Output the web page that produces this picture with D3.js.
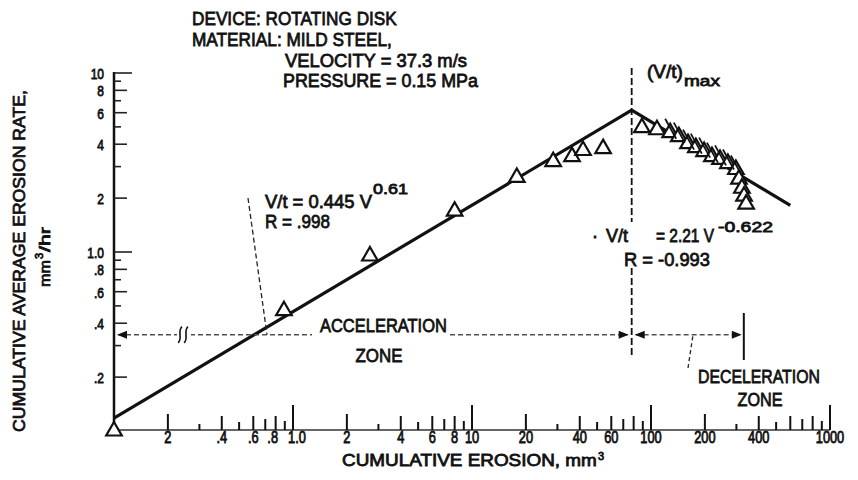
<!DOCTYPE html>
<html><head><meta charset="utf-8">
<script src="https://cdn.jsdelivr.net/npm/d3@7"></script>
<style>
body{margin:0;background:#fff}
svg{display:block;background:#fff}
text{font-family:"Liberation Sans",Arial,sans-serif;fill:#111;stroke:#111;stroke-width:0.8px}
</style></head><body>
<svg id="chart" width="858" height="480"></svg>
<script>
// ---- data ----
const accelErosion = [0.1, 0.89, 2.69, 8.0, 17.8, 28.4, 36.2, 41.7, 54];
const accelRate    = [0.1, 0.47, 0.95, 1.69, 2.61, 3.2, 3.41, 3.69, 3.78];
const decelErosion = [89, 108, 128, 143, 161, 178, 198, 219, 243, 269, 298, 310, 322, 331, 340];
const decelRate    = [4.95, 4.82, 4.64, 4.41, 4.03, 3.83, 3.64, 3.41, 3.29, 3.12, 2.89, 2.55, 2.27, 2.05, 1.85];
const decelFlagged = [0, 0, 1, 1, 1, 1, 1, 1, 1, 1, 1, 0, 0, 0, 0];
const accelFitErosion = [0.1, 78];
const accelFitRate    = [0.118, 6.2];
const decelFitErosion = [78, 600];
const decelFitRate    = [6.2, 1.82];
const vtMaxErosion = 78;
const decelZoneEnd = 330;
const zoneArrowRate = 0.345;

const xTickLabelValues = [0.2, 0.4, 0.6, 0.8, 1, 2, 4, 6, 8, 10, 20, 40, 60, 100, 200, 400, 1000];
const xTickLabels = ["2", ".4", ".6", ".8", "1.0", "2", "4", "6", "8", "10", "20", "40", "60", "100", "200", "400", "1000"];
const yTickLabelValues = [0.2, 0.4, 0.6, 0.8, 1, 2, 4, 6, 8, 10];
const yTickLabels = [".2", ".4", ".6", ".8", "1.0", "2", "4", "6", "8", "10"];

// ---- drawing ----
const svg = d3.select("#chart");
const x = d3.scaleLog().domain([0.1, 1000]).range([114, 830]);
const y = d3.scaleLog().domain([0.1, 10]).range([431, 73]);

// text squeezed horizontally to a target width with a transform (keeps bbox honest)
function label(px, py, s, size, len, anchor, parent, rot) {
  const p = parent || svg;
  const t = p.append("text").attr("x", 0).attr("y", 0).attr("font-size", size)
    .attr("text-anchor", anchor || "start").text(s);
  let sx = 1;
  if (len) { const w = t.node().getComputedTextLength(); if (w > 0) sx = len / w; }
  t.attr("transform", `translate(${px},${py})${rot ? ` rotate(${rot})` : ""} scale(${sx},1)`);
  return t;
}

// minor/major ticks
const allTicks = [];
for (let d = 0.1; d < 1000; d *= 10) for (let m = 1; m <= 9; m++) {
  const v = +(d * m).toPrecision(3);
  if (v > 0.1) allTicks.push({v, m});
}
allTicks.push({v: 1000, m: 1});
const xLen = {1: 25, 2: 16, 3: 6, 4: 14, 5: 8, 6: 14, 7: 11, 8: 14, 9: 9};

// x axis line
svg.append("line").attr("x1", x(0.1)).attr("x2", x(1000)).attr("y1", 430).attr("y2", 430)
  .attr("stroke", "#333").attr("stroke-width", 1.6);
svg.selectAll(".xt").data(allTicks).enter().append("line")
  .attr("x1", d => x(d.v)).attr("x2", d => x(d.v))
  .attr("y1", 430).attr("y2", d => 430 - xLen[d.m])
  .attr("stroke", "#111").attr("stroke-width", 2);

// y axis line
svg.append("line").attr("x1", 114).attr("x2", 114).attr("y1", y(10) - 1).attr("y2", y(0.1))
  .attr("stroke", "#111").attr("stroke-width", 2.5);
const yTicks = allTicks.filter(d => d.v <= 10);
svg.selectAll(".yt").data(yTicks).enter().append("line")
  .attr("x1", 114).attr("x2", d => 114 + (d.m === 1 ? 18 : (d.m % 2 === 0 ? 13 : 7)))
  .attr("y1", d => y(d.v)).attr("y2", d => y(d.v))
  .attr("stroke", "#222").attr("stroke-width", 1.6);

// tick labels
const xLabelShift = {".8": -3, "1.0": 4};
xTickLabelValues.forEach((v, i) => {
  const s = xTickLabels[i];
  svg.append("text").attr("transform", `translate(${x(v) + (xLabelShift[s] || 0)},443) scale(0.8,1)`)
    .attr("font-size", 16).attr("text-anchor", "middle").text(s);
});
yTickLabelValues.forEach((v, i) => {
  svg.append("text").attr("transform", `translate(104,${y(v) + 6}) scale(0.8,1)`)
    .attr("font-size", 15).attr("text-anchor", "end").text(yTickLabels[i]);
});

// axis titles
label(342, 466, "CUMULATIVE EROSION, mm", 17, 255);
label(598, 460, "3", 11);
label(25, 261, "CUMULATIVE AVERAGE EROSION RATE,", 17, 342, "middle", svg, -90);
label(50, 287, "mm", 15, 27, "start", svg, -90);
label(43, 259, "3", 11, 0, "start", svg, -90);
label(50, 252, "/hr", 15, 25, "start", svg, -90);

// header
label(192, 25, "DEVICE: ROTATING DISK", 19, 205);
label(192, 46, "MATERIAL: MILD STEEL,", 19, 200);
label(285, 67, "VELOCITY = 37.3 m/s", 19, 182);
label(283, 87, "PRESSURE = 0.15 MPa", 19, 195);

// (V/t)max
label(647, 78, "(V/t)", 18, 36);
label(684, 86, "max", 15, 36);

// vertical dashed line at (V/t)max
const vx = x(vtMaxErosion);
[[68, 222], [268, 358]].forEach(s => svg.append("line").attr("x1", vx).attr("x2", vx)
  .attr("y1", s[0]).attr("y2", s[1]).attr("stroke", "#111").attr("stroke-width", 1.8)
  .attr("stroke-dasharray", "7,3"));

// fit lines
const line = d3.line().x(d => x(d[0])).y(d => y(d[1]));
svg.append("path").attr("d", line(accelFitErosion.map((v, i) => [v, accelFitRate[i]])))
  .attr("fill", "none").attr("stroke", "#111").attr("stroke-width", 3.2);
svg.append("path").attr("d", line(decelFitErosion.map((v, i) => [v, decelFitRate[i]])))
  .attr("fill", "none").attr("stroke", "#111").attr("stroke-width", 3.2);

// data triangles
const tri = d3.symbol().type(d3.symbolTriangle).size(105);
const pts = accelErosion.map((v, i) => ({v, r: accelRate[i], f: 0}))
  .concat(decelErosion.map((v, i) => ({v, r: decelRate[i], f: decelFlagged[i]})));
svg.selectAll(".pt").data(pts).enter().append("path")
  .attr("transform", d => `translate(${x(d.v)},${y(d.r)})`).attr("d", tri)
  .attr("fill", "#fff").attr("stroke", "#111").attr("stroke-width", 2.2);
svg.selectAll(".fl").data(pts.filter(d => d.f)).enter().append("line")
  .attr("x1", d => x(d.v) - 5).attr("y1", d => y(d.r) - 14)
  .attr("x2", d => x(d.v) + 6).attr("y2", d => y(d.r) + 6)
  .attr("stroke", "#111").attr("stroke-width", 1.8);

// equations
label(265, 208, "V/t = 0.445 V", 19, 107);
label(373, 194, "0.61", 15, 35);
label(265, 228, "R   =   .998", 19, 65);
svg.append("line").attr("x1", 248).attr("y1", 198).attr("x2", 267).attr("y2", y(zoneArrowRate))
  .attr("stroke", "#222").attr("stroke-width", 1.3).attr("stroke-dasharray", "5,3");

label(592, 242, "·", 18);
label(606, 242, "V/t", 19, 22);
label(656, 242, "= 2.21 V", 19, 58);
label(718, 232, "-0.622", 15, 55);
label(624, 266, "R = -0.993", 19, 86);

// zone arrows
const ay = y(zoneArrowRate);
function arrowHead(px, py, dir) {
  svg.append("path").attr("d", `M${px},${py} l${-dir * 10},-4 l0,8 z`).attr("fill", "#111");
}
const dashStyle = s => s.attr("stroke", "#555").attr("stroke-width", 1.3).attr("stroke-dasharray", "5,3");
dashStyle(svg.append("line").attr("x1", x(0.1) + 4).attr("x2", 312).attr("y1", ay).attr("y2", ay));
dashStyle(svg.append("line").attr("x1", 450).attr("x2", vx - 4).attr("y1", ay).attr("y2", ay));
arrowHead(x(0.1) + 3, ay, -1);
arrowHead(vx - 3, ay, 1);
dashStyle(svg.append("line").attr("x1", vx + 4).attr("x2", x(decelZoneEnd) - 4).attr("y1", ay).attr("y2", ay));
arrowHead(vx + 3, ay, -1);
arrowHead(x(decelZoneEnd) - 2, ay, 1);
svg.append("rect").attr("x", 177).attr("y", ay - 9).attr("width", 14).attr("height", 18).attr("fill", "#fff");
svg.append("path").attr("d", `M178,${ay + 8} c5,-3 -1,-12 4,-16 M184,${ay + 8} c5,-3 -1,-12 4,-16`)
  .attr("fill", "none").attr("stroke", "#111").attr("stroke-width", 1.6);
svg.append("line").attr("x1", x(decelZoneEnd)).attr("x2", x(decelZoneEnd)).attr("y1", 313).attr("y2", 360)
  .attr("stroke", "#111").attr("stroke-width", 2);

label(320, 332, "ACCELERATION", 19, 127);
label(379, 362, "ZONE", 19, 47, "middle");
svg.append("line").attr("x1", 688).attr("y1", 368).attr("x2", 693).attr("y2", ay)
  .attr("stroke", "#222").attr("stroke-width", 1.3).attr("stroke-dasharray", "4,3");
label(698, 383, "DECELERATION", 19, 122);
label(760, 406, "ZONE", 19, 45, "middle");
</script>
</body></html>
